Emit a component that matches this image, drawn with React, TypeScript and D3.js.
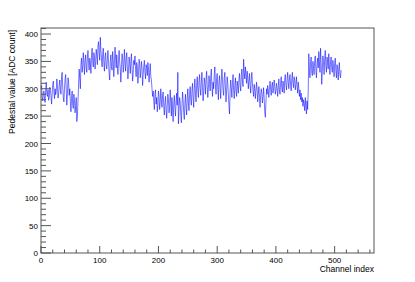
import React from 'react';
import * as d3 from 'd3';

// pedestal per channel (16 channels per row)
const pedestals: number[] = [
  300, 306, 284, 278, 292, 296, 281, 275, 300, 312, 290, 286, 298, 279, 284, 303,
  296, 288, 272, 290, 308, 314, 295, 282, 300, 289, 296, 318, 305, 283, 291, 306,
  316, 298, 290, 322, 330, 305, 284, 276, 300, 318, 326, 298, 270, 292, 320, 312,
  288, 300, 276, 258, 282, 296, 270, 264, 290, 280, 256, 268, 284, 240, 252, 278,
  310, 336, 318, 300, 344, 356, 330, 340, 366, 348, 326, 352, 362, 338, 330, 358,
  370, 346, 334, 356, 348, 328, 360, 374, 352, 340, 366, 358, 336, 350, 372, 360,
  344, 378, 386, 364, 352, 394, 370, 356, 340, 362, 374, 348, 332, 358, 366, 342,
  336, 354, 370, 348, 328, 316, 350, 362, 340, 334, 368, 352, 322, 346, 376, 356,
  338, 362, 344, 326, 352, 370, 348, 336, 312, 340, 364, 354, 330, 344, 372, 350,
  332, 356, 366, 340, 318, 334, 358, 346, 328, 350, 364, 338, 314, 330, 352, 344,
  360, 336, 322, 348, 340, 310, 328, 354, 346, 320, 334, 350, 338, 306, 326, 342,
  352, 330, 318, 344, 338, 324, 348, 336, 312, 330, 346, 322, 316, 300, 286, 296,
  278, 262, 290, 298, 272, 284, 258, 270, 296, 286, 262, 276, 300, 280, 266, 288,
  294, 268, 252, 274, 286, 262, 246, 270, 290, 280, 256, 266, 298, 274, 250, 284,
  262, 240, 272, 288, 266, 250, 276, 292, 270, 330, 236, 260, 284, 276, 252, 238,
  268, 294, 280, 256, 244, 272, 290, 266, 252, 282, 300, 274, 260, 290, 304, 280,
  270, 296, 310, 284, 266, 300, 318, 292, 276, 306, 322, 298, 284, 314, 326, 300,
  288, 312, 330, 302, 278, 296, 320, 310, 290, 316, 332, 306, 284, 300, 324, 314,
  296, 322, 336, 304, 286, 312, 300, 326, 340, 308, 290, 318, 328, 302, 280, 312,
  324, 300, 282, 314, 336, 318, 296, 288, 320, 330, 304, 276, 296, 322, 310, 290,
  270, 254, 296, 316, 302, 284, 310, 326, 298, 282, 306, 320, 296, 286, 314, 304,
  292, 316, 328, 306, 296, 322, 336, 314, 304, 354, 330, 318, 340, 326, 310, 332,
  320, 300, 314, 328, 306, 292, 318, 330, 310, 296, 286, 308, 300, 282, 296, 312,
  298, 276, 290, 304, 284, 266, 288, 300, 292, 274, 286, 302, 282, 258, 248, 276,
  300, 290, 306, 296, 284, 302, 314, 298, 288, 306, 312, 292, 300, 316, 304, 290,
  298, 310, 300, 286, 304, 318, 296, 290, 310, 322, 302, 294, 314, 306, 292, 318,
  326, 308, 298, 316, 330, 312, 300, 320, 326, 306, 296, 318, 330, 310, 302, 322,
  316, 298, 308, 322, 304, 292, 312, 300, 286, 298, 280, 292, 276, 284, 268, 280,
  272, 260, 284, 266, 254, 278, 262, 296, 364, 334, 320, 348, 358, 330, 324, 350,
  340, 326, 352, 360, 336, 320, 346, 356, 338, 368, 350, 330, 374, 346, 308, 332,
  360, 348, 326, 354, 370, 342, 330, 358, 348, 336, 364, 344, 326, 350, 358, 338,
  330, 352, 340, 322, 346, 356, 334, 320, 344, 338, 316, 336, 348, 326, 320, 334,
];

const xMajor = [0, 100, 200, 300, 400, 500];
const yMajor = [0, 50, 100, 150, 200, 250, 300, 350, 400];
const xTitle = 'Channel index';
const yTitle = 'Pedestal value [ADC count]';

const W = 415;
const H = 282;
const frame = { left: 41, right: 374, top: 28, bottom: 253 };

const App: React.FC = () => {
  const x = d3.scaleLinear().domain([0, 567]).range([frame.left, frame.right]);
  const y = d3.scaleLinear().domain([0, 411]).range([frame.bottom, frame.top]);

  const line = d3.line<number>()
    .x((_, i) => x(i))
    .y(d => y(d));

  const xMinor = d3.range(0, 567, 20).filter(v => v % 100 !== 0);
  const yMinor = d3.range(0, 411, 10).filter(v => v % 50 !== 0);
  const axisColor = '#555';
  const font = '"Liberation Sans", Arial, sans-serif';

  return (
    <svg width={W} height={H} style={{ position: 'absolute', left: 0, top: 0, background: '#fff' }}
      fontFamily={font}>
      <path d={line(pedestals) ?? ''} fill="none" stroke="#0000ff" strokeWidth={0.55} />

      <rect x={frame.left} y={frame.top} width={frame.right - frame.left}
        height={frame.bottom - frame.top} fill="none" stroke={axisColor} strokeWidth={1} />

      {xMajor.map(v => (
        <g key={'xm' + v}>
          <line x1={x(v)} x2={x(v)} y1={frame.bottom} y2={frame.bottom - 7} stroke={axisColor} />
          <text x={x(v)} y={frame.bottom + 10} fontSize={8} textAnchor="middle" fill="#000">{v}</text>
        </g>
      ))}
      {xMinor.map(v => (
        <line key={'xn' + v} x1={x(v)} x2={x(v)} y1={frame.bottom} y2={frame.bottom - 3.5} stroke={axisColor} />
      ))}

      {yMajor.map(v => (
        <g key={'ym' + v}>
          <line x1={frame.left} x2={frame.left + 10} y1={y(v)} y2={y(v)} stroke={axisColor} />
          <text x={frame.left - 3} y={y(v) + 3} fontSize={8} textAnchor="end" fill="#000">{v}</text>
        </g>
      ))}
      {yMinor.map(v => (
        <line key={'yn' + v} x1={frame.left} x2={frame.left + 5} y1={y(v)} y2={y(v)} stroke={axisColor} />
      ))}

      <text x={frame.right} y={272} fontSize={8.5} textAnchor="end" fill="#000">{xTitle}</text>
      <text transform={`translate(15, ${frame.top + 2}) rotate(-90)`} fontSize={8.5}
        textAnchor="end" fill="#000">{yTitle}</text>
    </svg>
  );
};

export default App;
